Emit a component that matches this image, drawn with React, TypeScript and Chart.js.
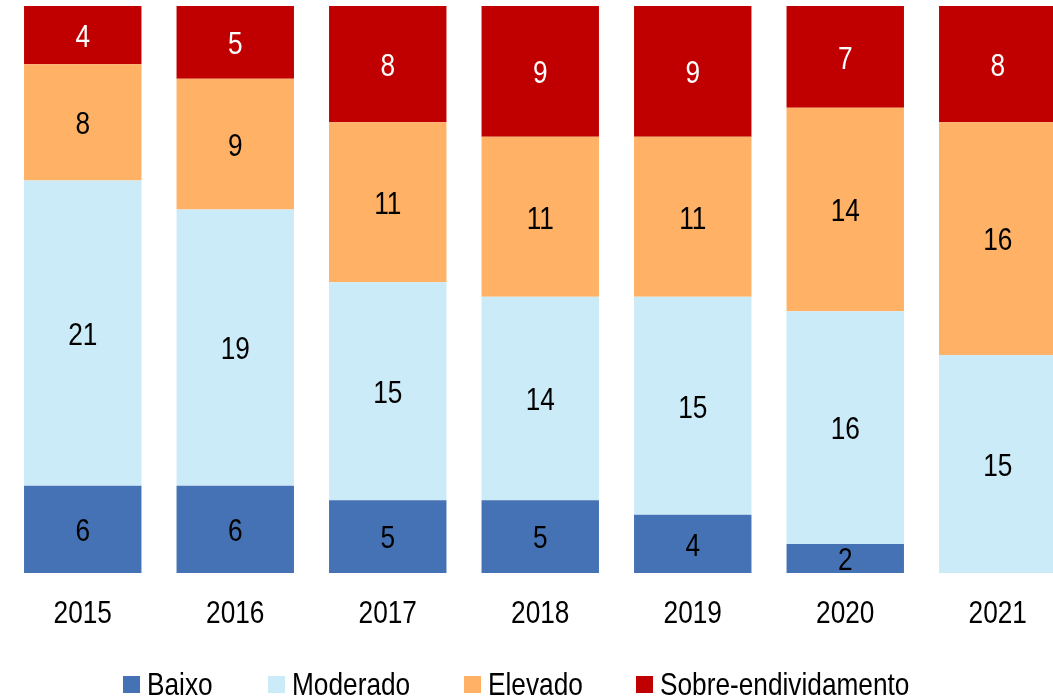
import React, { useEffect, useRef } from "react";
import { Chart, registerables } from "chart.js";

Chart.register(...registerables);

const years = ["2015", "2016", "2017", "2018", "2019", "2020", "2021"];
const baixo = [6, 6, 5, 5, 4, 2, 0];
const moderado = [21, 19, 15, 14, 15, 16, 15];
const elevado = [8, 9, 11, 11, 11, 14, 16];
const sobre = [4, 5, 8, 9, 9, 7, 8];
const seriesNames = ["Baixo", "Moderado", "Elevado", "Sobre-endividamento"];
const seriesValues = [baixo, moderado, elevado, sobre];
const colors = ["#4472B4", "#CCEBF8", "#FFB266", "#C00000"];
const labelColors = ["#000000", "#000000", "#000000", "#FFFFFF"];
const yMax = 39;

const FONT = "'Liberation Sans', Arial, sans-serif";
const FONT_SIZE = 32;
const NARROW = 0.82;

const drawNarrow = (ctx: any, text: string, x: number, y: number, color: string) => {
  ctx.save();
  ctx.translate(x, y);
  ctx.scale(NARROW, 1);
  ctx.fillStyle = color;
  ctx.font = `${FONT_SIZE}px ${FONT}`;
  ctx.textAlign = "center";
  ctx.textBaseline = "middle";
  ctx.fillText(text, 0, 0);
  ctx.restore();
};

const valueLabels = {
  id: "valueLabels",
  afterDatasetsDraw(chart: any) {
    const ctx = chart.ctx;
    chart.data.datasets.forEach((ds: any, i: number) => {
      const meta = chart.getDatasetMeta(i);
      meta.data.forEach((bar: any, j: number) => {
        const v = ds.data[j];
        if (!v) return;
        const { x, y, base } = bar.getProps(["x", "y", "base"], true);
        drawNarrow(ctx, String(v), x, (y + base) / 2 + 3, labelColors[i]);
      });
    });
    const xs = chart.scales.x;
    const bottom = chart.chartArea.bottom;
    chart.data.labels.forEach((lab: string, i: number) => {
      drawNarrow(ctx, lab, xs.getPixelForValue(i), bottom + 41, "#000000");
    });
  },
};

const legendBoxX = [123, 268, 464, 636];

export default function App() {
  const ref = useRef<HTMLCanvasElement | null>(null);

  useEffect(() => {
    if (!ref.current) return;
    const chart = new Chart(ref.current, {
      type: "bar",
      data: {
        labels: years,
        datasets: seriesNames.map((name, i) => ({
          label: name,
          data: seriesValues[i],
          backgroundColor: colors[i],
          borderWidth: 0,
          barPercentage: 0.77,
          categoryPercentage: 1,
        })),
      },
      options: {
        responsive: false,
        animation: false,
        devicePixelRatio: 1,
        layout: { padding: { left: 6.5, top: 6, right: 0, bottom: 127 } },
        plugins: {
          legend: { display: false },
          tooltip: { enabled: false },
        },
        scales: {
          x: {
            stacked: true,
            display: false,
          },
          y: {
            stacked: true,
            display: false,
            min: 0,
            max: yMax,
          },
        },
      },
      plugins: [valueLabels],
    });
    return () => chart.destroy();
  }, []);

  return (
    <div
      style={{
        position: "fixed",
        left: 0,
        top: 0,
        width: 1053,
        height: 700,
        overflow: "hidden",
        background: "#fff",
      }}
    >
      <canvas ref={ref} width={1074} height={700} style={{ display: "block" }} />
      {seriesNames.map((name, i) => (
        <div
          key={name}
          style={{
            position: "absolute",
            left: legendBoxX[i],
            top: 668,
            height: 32,
            display: "flex",
            alignItems: "center",
            fontFamily: FONT,
            fontSize: FONT_SIZE,
            lineHeight: "32px",
            color: "#000",
            whiteSpace: "nowrap",
          }}
        >
          <span style={{ display: "inline-block", width: 17, height: 17, background: colors[i], marginRight: 7 }} />
          <span style={{ display: "inline-block", transform: `scaleX(${NARROW})`, transformOrigin: "left center" }}>
            {name}
          </span>
        </div>
      ))}
    </div>
  );
}
